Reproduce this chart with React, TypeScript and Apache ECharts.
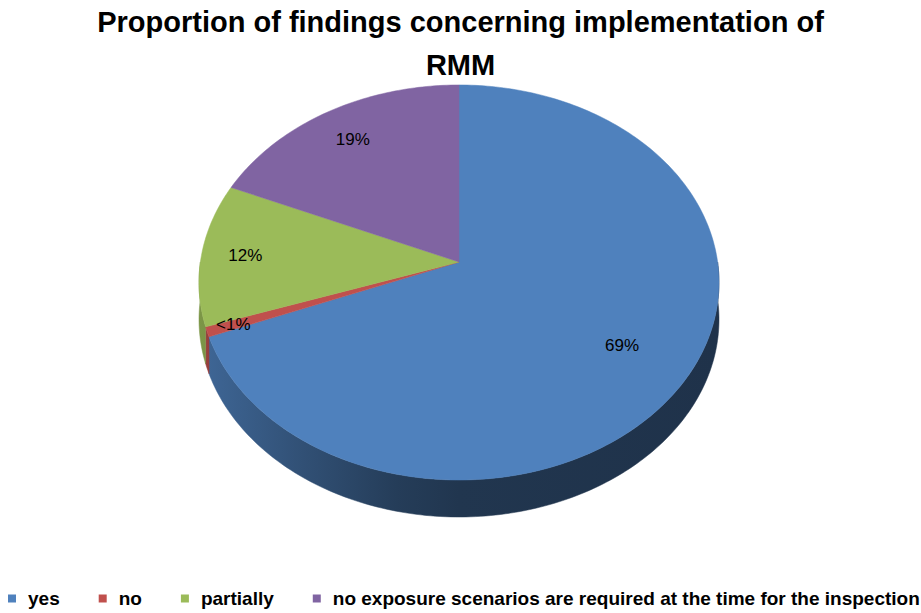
import React, { useEffect, useRef } from "react";
import * as echarts from "echarts";

const TITLE = "Proportion of findings concerning implementation of\nRMM";
const categories = [
  "yes",
  "no",
  "partially",
  "no exposure scenarios are required at the time for the inspection",
];
const values = [69, 0.8, 11.7, 18.5];
const valueLabels = ["69%", "<1%", "12%", "19%"];
const colors = ["#4f81bd", "#c0504d", "#9bbb59", "#8064a2"];
const labelRadius = [0.73, 0.9, 0.83, 0.8];

function shade(hex: string, f: number): string {
  const n = parseInt(hex.slice(1), 16);
  const r = Math.round(((n >> 16) & 255) * f);
  const g = Math.round(((n >> 8) & 255) * f);
  const b = Math.round((n & 255) * f);
  return `rgb(${r},${g},${b})`;
}

export default function App() {
  const ref = useRef<HTMLDivElement>(null);
  useEffect(() => {
    if (!ref.current) return;
    const chart = echarts.init(ref.current, null, { renderer: "svg" });
    const total = values.reduce((a, b) => a + b, 0);
    const starts: number[] = [];
    let acc = 0;
    for (const v of values) {
      starts.push((acc / total) * Math.PI * 2);
      acc += v;
    }

    const renderItem = (params: any, api: any) => {
      const W = api.getWidth();
      const H = api.getHeight();
      const cx = (W * 459) / 921;
      const cy = (H * 262) / 613;
      const R = (W * 258.6) / 921;
      const S = (H * 195.4) / 613;
      const bp = 0.1037;
      const depth = (H * 37) / 613;
      const i = params.dataIndex;
      const v = api.value(0);
      const a0 = starts[i];
      const a1 = a0 + (v / total) * Math.PI * 2;
      const proj = (t: number, r: number): number[] => {
        const X = r * Math.sin(t);
        const Z = r * Math.cos(t);
        const w = 1 + bp * Z;
        return [cx + (R * X) / w, cy - (S * Z) / w];
      };
      const arc = (s: number, e: number): number[][] => {
        const n = Math.max(2, Math.ceil((e - s) / (Math.PI / 180)));
        const pts: number[][] = [];
        for (let k = 0; k <= n; k++) pts.push(proj(s + ((e - s) * k) / n, 1));
        return pts;
      };
      const children: any[] = [];
      const ws = Math.max(a0, Math.PI / 2);
      const we = Math.min(a1, (Math.PI * 3) / 2);
      if (we > ws) {
        const topPts = arc(ws, we);
        const botPts = topPts.map((p) => [p[0], p[1] + depth]).reverse();
        const c = colors[i];
        const grad = new echarts.graphic.LinearGradient(
          cx - R * 1.005,
          0,
          cx + R * 1.005,
          0,
          [
            { offset: 0, color: shade(c, 0.8) },
            { offset: 0.2, color: shade(c, 0.62) },
            { offset: 0.38, color: shade(c, 0.47) },
            { offset: 0.5, color: shade(c, 0.42) },
            { offset: 1, color: shade(c, 0.39) },
          ],
          true
        );
        children.push({
          type: "polygon",
          z2: 1,
          shape: { points: topPts.concat(botPts) },
          style: { fill: grad, stroke: grad, lineWidth: 0.5 },
        });
      }
      const top = [[cx, cy]].concat(arc(a0, a1));
      children.push({
        type: "polygon",
        z2: 10,
        shape: { points: top },
        style: { fill: colors[i], stroke: colors[i], lineWidth: 0.5 },
      });
      const lp = proj((a0 + a1) / 2, labelRadius[i]);
      children.push({
        type: "text",
        z2: 20,
        x: lp[0],
        y: lp[1],
        style: {
          text: valueLabels[i],
          fill: "#000",
          fontSize: 17,
          fontFamily: "Liberation Sans",
          align: "center",
          verticalAlign: "middle",
        },
      });
      return { type: "group", children };
    };

    chart.setOption({
      animation: false,
      backgroundColor: "#ffffff",
      title: {
        text: TITLE,
        left: "center",
        top: 0,
        padding: 0,
        textStyle: {
          fontSize: 29,
          fontWeight: "bold",
          fontFamily: "Liberation Sans",
          lineHeight: 43,
          color: "#000",
        },
      },
      legend: {
        data: categories,
        left: 8,
        top: 589,
        padding: 0,
        icon: "rect",
        itemWidth: 8,
        itemHeight: 8,
        itemGap: 39,
        textStyle: {
          fontSize: 19,
          fontWeight: "bold",
          fontFamily: "Liberation Sans",
          color: "#000",
          padding: [0, 0, 0, 7],
        },
      },
      series: [
        {
          type: "pie",
          center: [-200, -200],
          radius: [0, 0],
          silent: true,
          label: { show: false },
          labelLine: { show: false },
          data: categories.map((n, k) => ({
            name: n,
            value: values[k],
            itemStyle: { color: colors[k] },
          })),
        },
        {
          type: "custom",
          coordinateSystem: "none",
          renderItem,
          data: values.map((v) => [v]),
        },
      ],
    });
    return () => chart.dispose();
  }, []);
  return (
    <div
      ref={ref}
      style={{ position: "fixed", left: 0, top: 0, width: 921, height: 613 }}
    />
  );
}
